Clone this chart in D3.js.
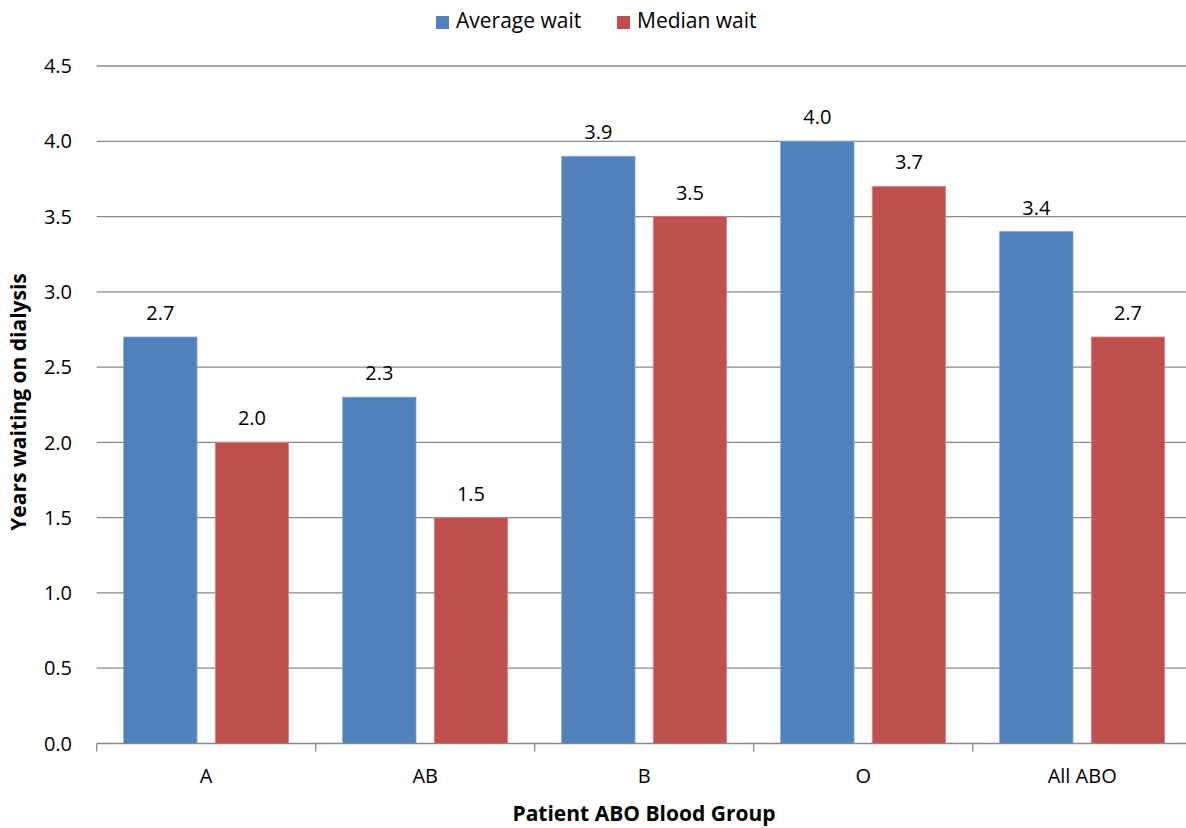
<!DOCTYPE html>
<html><head><meta charset="utf-8">
<script src="https://cdn.jsdelivr.net/npm/d3@7"></script>
<style>body{margin:0;background:#fff}svg{display:block}text{font-family:"Open Sans",Lato,sans-serif;fill:#000}</style>
</head><body><svg id="c" width="1186" height="828"></svg>
<script>
const categories = ["A","AB","B","O","All ABO"];
const seriesNames = ["Average wait","Median wait"];
const averageWait = [2.7,2.3,3.9,4.0,3.4];
const medianWait = [2.0,1.5,3.5,3.7,2.7];
const yTicks = [0,0.5,1.0,1.5,2.0,2.5,3.0,3.5,4.0,4.5];
const colors = ["#4F81BD","#C0504D"];
const strokes = ["#7FA3D3","#D98380"];

(function(){
const svg = d3.select("#c");
const fs = "20px";
const plotLeft = 96.7, bandW = 219, plotTop = 66, plotBottom = 743.5;
const x = d3.scaleBand().domain(categories).range([plotLeft, plotLeft + bandW*categories.length]).paddingInner(0).paddingOuter(0);
const y = d3.scaleLinear().domain([0,4.5]).range([plotBottom, plotTop]);
const inner = d3.scaleBand().domain(seriesNames).range([27, 27+73.3*2+18.3]).paddingInner(18.3/(73.3+18.3)).paddingOuter(0);

svg.append("g").selectAll("line").data(yTicks.slice(1)).join("line")
  .attr("x1", plotLeft).attr("x2", 1186).attr("y1", d=>y(d)).attr("y2", d=>y(d))
  .attr("stroke","#888").attr("stroke-width",1.3);

svg.append("g").selectAll("text").data(yTicks).join("text")
  .attr("x", 72).attr("y", d=>y(d)).attr("dy","0.36em").attr("text-anchor","end")
  .style("font-size",fs).text(d=>d3.format(".1f")(d));

const data = categories.map((c,i)=>({cat:c, vals:[averageWait[i], medianWait[i]]}));
const groups = svg.append("g").selectAll("g").data(data).join("g")
  .attr("transform", d=>`translate(${x(d.cat)},0)`);
groups.selectAll("rect").data(d=>d.vals.map((v,j)=>({v,j}))).join("rect")
  .attr("x", d=>inner(seriesNames[d.j])).attr("width", inner.bandwidth())
  .attr("y", d=>y(d.v)).attr("height", d=>plotBottom - y(d.v))
  .attr("fill", d=>colors[d.j]).attr("stroke", d=>strokes[d.j]).attr("stroke-width",0.8);
groups.selectAll("text").data(d=>d.vals.map((v,j)=>({v,j}))).join("text")
  .attr("x", d=>inner(seriesNames[d.j]) + inner.bandwidth()/2).attr("y", d=>y(d.v)-17)
  .attr("text-anchor","middle").style("font-size",fs).text(d=>d3.format(".1f")(d.v));

const xa = svg.append("g");
xa.append("line").attr("x1", plotLeft).attr("x2",1186).attr("y1",plotBottom).attr("y2",plotBottom).attr("stroke","#888").attr("stroke-width",1.3);
xa.selectAll("line.t").data(categories).join("line").attr("class","t")
  .attr("x1", d=>x(d)).attr("x2", d=>x(d)).attr("y1", plotBottom).attr("y2", plotBottom+8).attr("stroke","#888").attr("stroke-width",1.3);
xa.selectAll("text").data(categories).join("text")
  .attr("x", d=>x(d)+bandW/2).attr("y", 783).attr("text-anchor","middle").style("font-size",fs).text(d=>d);

svg.append("text").attr("x", 644).attr("y", 821).attr("text-anchor","middle")
  .style("font-size","21px").style("font-weight","bold").text("Patient ABO Blood Group");
svg.append("text").attr("transform", `translate(26,402) rotate(-90)`).attr("text-anchor","middle")
  .style("font-size","21px").style("font-weight","bold").text("Years waiting on dialysis");

const leg = svg.append("g");
const legX = [436, 617];
seriesNames.forEach((s,i)=>{
  leg.append("rect").attr("x", legX[i]).attr("y", 16).attr("width", 13).attr("height", 13).attr("fill", colors[i]);
  leg.append("text").attr("x", legX[i]+20).attr("y", 28).style("font-size","21px").text(s);
});
})();
</script></body></html>
